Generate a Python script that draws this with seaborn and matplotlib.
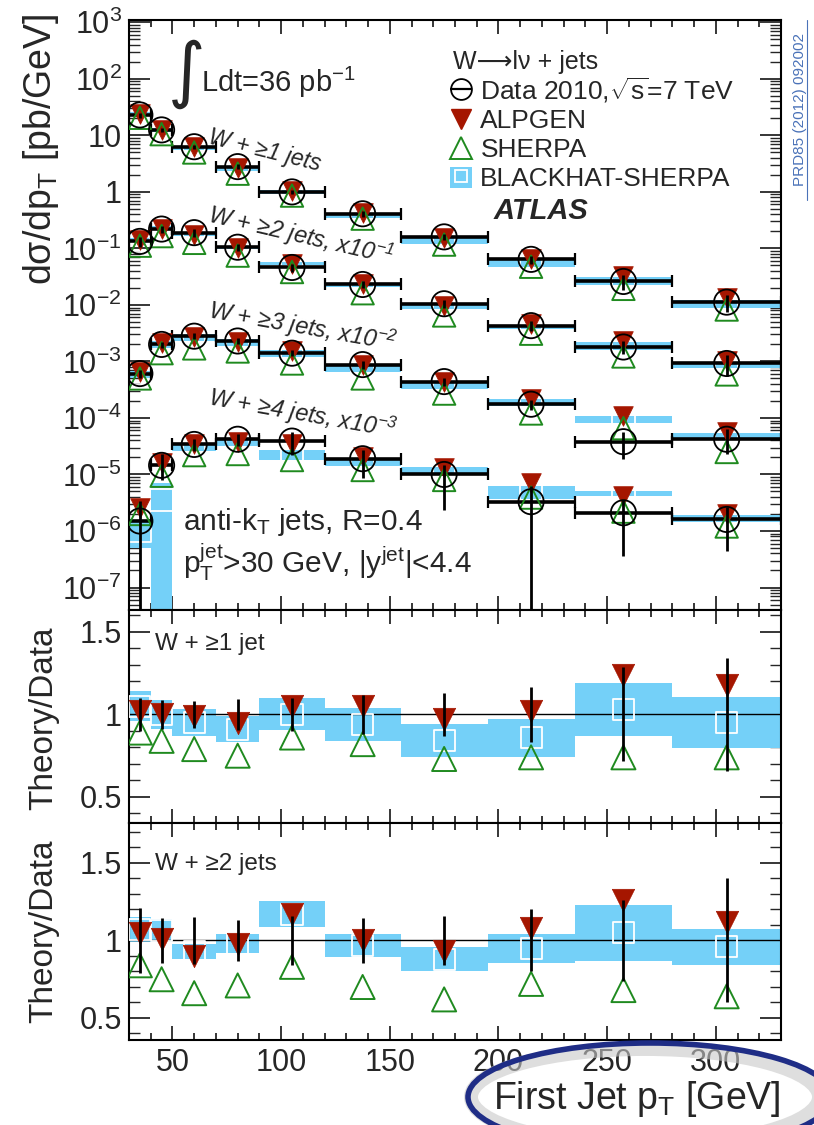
import numpy as np
import matplotlib
matplotlib.use("Agg")
import matplotlib.pyplot as plt
import seaborn as sns
from matplotlib.lines import Line2D
from matplotlib.patches import Patch, Ellipse
from matplotlib.legend_handler import HandlerTuple
from matplotlib.ticker import FixedLocator, FuncFormatter, NullFormatter

# ---------------- data ----------------
bin_edges = [30, 40, 50, 70, 90, 120, 155, 195, 235, 280, 330]
bin_centers = [35, 45, 60, 80, 105, 137.5, 175, 215, 257.5, 305]

# measured cross sections (pb/GeV), before display scaling
data_1j = [23, 12.5, 6.3, 2.8, 1.0, 0.41, 0.16, 0.064, 0.026, 0.0112]
data_2j = [1.33, 2.2, 1.9, 1.05, 0.46, 0.23, 0.105, 0.043, 0.018, 0.0092]
data_3j = [0.061, 0.20, 0.28, 0.23, 0.14, 0.088, 0.044, 0.0175, 0.0038, 0.0042]
data_4j = [0.0015, 0.0145, 0.034, 0.042, 0.039, 0.019, 0.010, 0.0033, 0.0021, 0.0016]
scale_factors = [1, 1e-1, 1e-2, 1e-3]

# relative data uncertainties
err_1j = [0.10, 0.09, 0.08, 0.095, 0.10, 0.12, 0.13, 0.165, 0.285, 0.34]
err_2j = [0.21, 0.145, 0.15, 0.135, 0.16, 0.145, 0.16, 0.20, 0.26, 0.40]
err_up_3j = [0.15, 0.12, 0.12, 0.12, 0.12, 0.15, 0.15, 0.20, 0.50, 0.50]
err_dn_3j = [0.15, 0.12, 0.12, 0.12, 0.12, 0.15, 0.15, 0.20, 0.50, 0.45]
err_up_4j = [1.3, 0.6, 0.25, 0.25, 0.45, 0.42, 0.45, 0.9, 0.67, 0.69]
err_dn_4j = [0.995, 0.45, 0.25, 0.25, 0.44, 0.55, 0.76, 0.995, 0.83, 0.72]

# theory / data ratios (W + >=1 jet)
r1_alpgen = [1.02, 1.00, 0.99, 0.95, 1.05, 1.05, 0.97, 1.02, 1.24, 1.18]
r1_sherpa = [0.89, 0.84, 0.79, 0.75, 0.86, 0.82, 0.73, 0.74, 0.74, 0.74]
r1_bh = [1.05, 1.00, 0.95, 0.91, 1.00, 0.94, 0.84, 0.86, 1.03, 0.95]
r1_bh_err = [0.09, 0.09, 0.08, 0.08, 0.097, 0.10, 0.10, 0.115, 0.16, 0.155]
# theory / data ratios (W + >=2 jets)
r2_alpgen = [1.05, 1.01, 0.90, 0.98, 1.17, 1.00, 0.93, 1.08, 1.26, 1.12]
r2_sherpa = [0.84, 0.75, 0.66, 0.71, 0.83, 0.70, 0.62, 0.72, 0.68, 0.64]
r2_bh = [1.07, 1.065, 0.93, 0.98, 1.17, 0.97, 0.88, 0.95, 1.05, 0.96]
r2_bh_err = [0.08, 0.075, 0.05, 0.06, 0.085, 0.075, 0.08, 0.095, 0.18, 0.115]

# theory predictions for >=3 and >=4 jets (pb/GeV, before scaling)
alpgen_3j = [0.065, 0.21, 0.27, 0.22, 0.155, 0.085, 0.044, 0.022, 0.011, 0.0056]
sherpa_3j = [0.050, 0.14, 0.17, 0.15, 0.092, 0.050, 0.027, 0.012, 0.0066, 0.0025]
blackhat_3j = [0.060, 0.20, 0.27, 0.22, 0.14, 0.075, 0.039, 0.019, 0.0094, 0.0047]
bh_rel_3j = [0.15, 0.15, 0.15, 0.15, 0.15, 0.15, 0.15, 0.15, 0.15, 0.15]
alpgen_4j = [0.0026, 0.016, 0.034, 0.037, 0.035, 0.020, 0.013, 0.0072, 0.0041, 0.0020]
sherpa_4j = [0.0020, 0.0095, 0.022, 0.023, 0.018, 0.012, 0.008, 0.0039, 0.0022, 0.0012]
blackhat_4j = [0.0010, 0.0035, 0.030, 0.036, 0.023, 0.016, 0.012, 0.0050, 0.0046, 0.0017]
bh_rel_4j = [0.5, 0.995, 0.12, 0.12, 0.2, 0.12, 0.12, 0.25, 0.1, 0.15]

# axis ticks
x_major_ticks = [50, 100, 150, 200, 250, 300]
x_minor_ticks = [40, 60, 70, 80, 90, 110, 120, 130, 140, 160, 170, 180, 190,
                 210, 220, 230, 240, 260, 270, 280, 290, 310, 320]
y_main_exponents = [-7, -6, -5, -4, -3, -2, -1, 0, 1, 2, 3]
ratio_major_ticks = [0.5, 1.0, 1.5]
ratio_minor_ticks = [0.4, 0.6, 0.7, 0.8, 0.9, 1.1, 1.2, 1.3, 1.4, 1.6, 1.7]

legend_labels = ['Data 2010,$\\sqrt{\\mathrm{s}}$=7 TeV', 'ALPGEN', 'SHERPA', 'BLACKHAT-SHERPA']

# ---------------- style ----------------
sns.set_style("ticks")
plt.rcParams['font.family'] = ['Liberation Sans', 'DejaVu Sans']
plt.rcParams['mathtext.fontset'] = 'custom'
plt.rcParams['mathtext.rm'] = 'Liberation Sans'
plt.rcParams['mathtext.it'] = 'Liberation Sans:italic'
plt.rcParams['mathtext.bf'] = 'Liberation Sans:bold'
plt.rcParams['mathtext.default'] = 'regular'

C_ALP = '#a51600'
C_SHE = '#1f8a1f'
C_BH = '#74d0f8'

W, H = 814, 1125
fig = plt.figure(figsize=(8.14, 11.25), dpi=100)
fig.patch.set_facecolor('white')


def fx(px):
    return px / W


def fy(py):
    return 1 - py / H

L, R = 129, 781
ax_main = fig.add_axes([fx(L), fy(610), fx(R) - fx(L), fy(20) - fy(610)])
ax_r1 = fig.add_axes([fx(L), fy(823), fx(R) - fx(L), fy(610) - fy(823)], sharex=ax_main)
ax_r2 = fig.add_axes([fx(L), fy(1040), fx(R) - fx(L), fy(823) - fy(1040)], sharex=ax_main)

xc = np.array(bin_centers)
lo_edge = np.array(bin_edges[:-1])
hi_edge = np.array(bin_edges[1:])
widths = hi_edge - lo_edge


def mark(ax, x, y, marker, s, fc, ec, lw, z):
    sns.scatterplot(x=list(x), y=list(y), marker=marker, s=s, color=ec,
                    facecolor=fc, edgecolor=ec, linewidth=lw, ax=ax,
                    zorder=z, legend=False, clip_on=True)

# ---------------- main panel ----------------
ax = ax_main
sets = [
    (data_1j, np.array(data_1j) * np.array(r1_alpgen), np.array(data_1j) * np.array(r1_sherpa),
     np.array(data_1j) * np.array(r1_bh), np.array(r1_bh_err) / np.array(r1_bh), err_1j, err_1j),
    (data_2j, np.array(data_2j) * np.array(r2_alpgen), np.array(data_2j) * np.array(r2_sherpa),
     np.array(data_2j) * np.array(r2_bh), np.array(r2_bh_err) / np.array(r2_bh), err_2j, err_2j),
    (data_3j, alpgen_3j, sherpa_3j, blackhat_3j, bh_rel_3j, err_up_3j, err_dn_3j),
    (data_4j, alpgen_4j, sherpa_4j, blackhat_4j, bh_rel_4j, err_up_4j, err_dn_4j),
]
for sf, (d, alp, she, bh, bhr, eu, ed) in zip(scale_factors, sets):
    d = np.array(d) * sf
    alp = np.array(alp) * sf
    she = np.array(she) * sf
    bh = np.array(bh) * sf
    bhr = np.array(bhr)
    ax.bar(lo_edge, bh * 2 * bhr, bottom=bh * (1 - bhr), width=widths, align='edge',
           color=C_BH, linewidth=0, zorder=1)
    mark(ax, xc, bh, 's', 260, 'none', 'white', 1.3, 2)
    ax.errorbar(xc, d, xerr=[xc - lo_edge, hi_edge - xc], fmt='none', ecolor='black',
                elinewidth=2.6, capsize=4, capthick=1.6, zorder=3)
    mark(ax, xc, alp, 'v', 200, C_ALP, C_ALP, 0.5, 4)
    mark(ax, xc, she, '^', 260, 'none', C_SHE, 1.4, 5)
    mark(ax, xc, d, 'o', 330, 'none', 'black', 1.3, 6)
    ax.vlines(xc, d * (1 - np.array(ed)), d * (1 + np.array(eu)), color='black', lw=2.0, zorder=7)

ax.set_yscale('log')
ax.set_xlim(30, 330)
ax.set_ylim(4e-8, 1.1e3)
major_vals = [10.0 ** e for e in y_main_exponents]
minor_vals = [m * 10.0 ** e for e in [-8] + y_main_exponents for m in range(2, 10)
              if 4e-8 <= m * 10.0 ** e <= 1.1e3]
ax.yaxis.set_major_locator(FixedLocator(major_vals))
ax.yaxis.set_minor_locator(FixedLocator(minor_vals))
ax.yaxis.set_minor_formatter(NullFormatter())


def logfmt(v, pos):
    e = int(round(np.log10(v)))
    if e == 0:
        return '1'
    if e == 1:
        return '10'
    return '$10^{%d}$' % e

ax.yaxis.set_major_formatter(FuncFormatter(logfmt))

# ---------------- ratio panels ----------------
ratio_sets = [
    (ax_r1, r1_alpgen, r1_sherpa, r1_bh, r1_bh_err, err_1j, 'W + \u22651 jet', (0.342, 1.633), 0.84),
    (ax_r2, r2_alpgen, r2_sherpa, r2_bh, r2_bh_err, err_2j, 'W + \u22652 jets', (0.358, 1.758), 0.81),
]
for axr, ra, rs, rb, rbe, de, lab, ylim, ty in ratio_sets:
    rb = np.array(rb)
    rbe = np.array(rbe)
    axr.bar(lo_edge, 2 * rbe, bottom=rb - rbe, width=widths, align='edge',
            color=C_BH, linewidth=0, zorder=1)
    axr.axhline(1, color='black', lw=1.0, zorder=2)
    mark(axr, xc, rb, 's', 230, 'none', 'white', 1.3, 3)
    mark(axr, xc, ra, 'v', 260, C_ALP, C_ALP, 0.5, 4)
    mark(axr, xc, rs, '^', 300, 'none', C_SHE, 1.4, 5)
    axr.vlines(xc, 1 - np.array(de), 1 + np.array(de), color='black', lw=2.0, zorder=6)
    axr.set_ylim(*ylim)
    axr.yaxis.set_major_locator(FixedLocator(ratio_major_ticks))
    axr.yaxis.set_minor_locator(FixedLocator([t for t in ratio_minor_ticks
                                              if ylim[0] < t < ylim[1]]))
    axr.yaxis.set_major_formatter(FuncFormatter(lambda v, p: '%g' % v))
    axr.text(0.04, ty, lab, transform=axr.transAxes, fontsize=17.5, ha='left', va='center')

for a in (ax_main, ax_r1, ax_r2):
    a.xaxis.set_major_locator(FixedLocator(x_major_ticks))
    a.xaxis.set_minor_locator(FixedLocator(x_minor_ticks))
    a.tick_params(axis='both', which='both', direction='in', top=True, right=True,
                  labelsize=22, width=1.3, pad=5)
    a.tick_params(axis='y', which='major', length=15)
    a.tick_params(axis='y', which='minor', length=8, width=1.0)
    a.tick_params(axis='x', which='major', length=10)
    a.tick_params(axis='x', which='minor', length=5)
    for sp in a.spines.values():
        sp.set_linewidth(1.5)
        sp.set_color('black')
    a.set_xlabel('')
ax_main.tick_params(axis='x', labelbottom=False)
ax_r1.tick_params(axis='x', labelbottom=False)
ax_r2.tick_params(axis='x', pad=6)

# ---------------- axis titles ----------------
ax_main.set_ylabel('d\u03c3/dp$_{\\mathrm{T}}$ [pb/GeV]', fontsize=27)
ax_main.yaxis.set_label_coords(-0.1043, 0.78)
ax_r1.set_ylabel('Theory/Data', fontsize=24)
ax_r1.yaxis.set_label_coords(-0.107, 0.49)
ax_r2.set_ylabel('Theory/Data', fontsize=24)
ax_r2.yaxis.set_label_coords(-0.107, 0.50)
ax_r2.set_xlabel('First Jet p$_{\\mathrm{T}}$ [GeV]', fontsize=27, loc='right')
ax_r2.xaxis.set_label_coords(1.0, -0.178)

# ---------------- texts ----------------
fig.text(fx(187), fy(74), '\u222b', fontsize=52, ha='center', va='center',
         family=['DejaVu Sans'])
fig.text(fx(201), fy(92), 'Ldt=36 pb$^{-1}$', fontsize=21, ha='left', va='baseline')

fig.text(fx(207), fy(143), 'W + \u22651 jets', fontsize=16.5, style='italic',
         rotation=-14, rotation_mode='anchor', ha='left', va='baseline')
fig.text(fx(207), fy(222), 'W + \u22652 jets, x10$^{-1}$', fontsize=17, style='italic',
         rotation=-13, rotation_mode='anchor', ha='left', va='baseline')
fig.text(fx(207), fy(318), 'W + \u22653 jets, x10$^{-2}$', fontsize=17, style='italic',
         rotation=-10, rotation_mode='anchor', ha='left', va='baseline')
fig.text(fx(207), fy(405), 'W + \u22654 jets, x10$^{-3}$', fontsize=17, style='italic',
         rotation=-10, rotation_mode='anchor', ha='left', va='baseline')

fig.text(fx(183), fy(530), 'anti-k$_{\\mathrm{T}}$ jets, R=0.4', fontsize=21.5, ha='left',
         va='baseline')
fig.text(fx(183), fy(573), 'p$_{\\mathrm{T}}^{\\mathrm{jet}}$>30 GeV, |y$^{\\mathrm{jet}}$|<4.4',
         fontsize=21.5, ha='left', va='baseline')

fig.text(fx(494), fy(219), 'ATLAS', fontsize=21, weight='bold', style='italic',
         ha='left', va='baseline')

# legend header + entries
fig.text(fx(453), fy(69), 'W\u27f6l\u03bd + jets', fontsize=18, ha='left', va='baseline')
h_data = (Line2D([], [], ls='none', marker='_', ms=16, mew=1.6, color='black'),
          Line2D([], [], ls='none', marker='o', ms=15, mfc='none', mec='black', mew=1.3))
h_alp = Line2D([], [], ls='none', marker='v', ms=14, color=C_ALP)
h_she = Line2D([], [], ls='none', marker='^', ms=16, mfc='none', mec=C_SHE, mew=1.4)
h_bh = (Patch(fc=C_BH, ec='none'),
        Line2D([], [], ls='none', marker='s', ms=8, mfc='none', mec='white', mew=1.3))
leg = ax_main.legend([h_data, h_alp, h_she, h_bh], legend_labels,
                     handler_map={tuple: HandlerTuple(ndivide=1, pad=0)},
                     fontsize=19, loc='upper left', bbox_to_anchor=(fx(450), fy(75)),
                     bbox_transform=fig.transFigure, frameon=False,
                     handlelength=0.85, handleheight=0.85, handletextpad=0.3,
                     labelspacing=0.16, borderpad=0, borderaxespad=0)

# reference tag
fig.text(fx(800), fy(110), 'PRD85 (2012) 092002', rotation=90, color='#4a72b8',
         fontsize=11, ha='center', va='center')
fig.add_artist(Line2D([fx(807), fx(807)], [fy(20), fy(200)], color='#4a72b8', lw=0.8,
                      transform=fig.transFigure))

# highlight ellipse around axis title
fig.add_artist(Ellipse((fx(645), fy(1097)), fx(348), 96 / H, transform=fig.transFigure,
                       fill=False, ec='#c8c8c8', lw=10, alpha=0.6))
fig.add_artist(Ellipse((fx(650), fy(1097)), fx(364), 108 / H, transform=fig.transFigure,
                       fill=False, ec='#1f2d86', lw=4))

fig.savefig('out.png', dpi=100)
